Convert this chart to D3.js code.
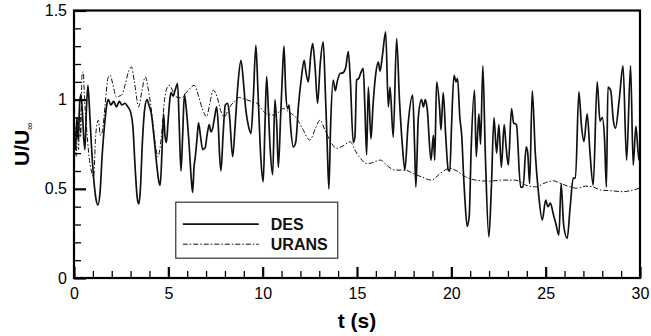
<!DOCTYPE html>
<html>
<head>
<meta charset="utf-8">
<script src="https://cdn.jsdelivr.net/npm/d3@7"></script>
<style>
  html, body { margin: 0; padding: 0; background: #fff; }
  svg { display: block; font-family: "Liberation Sans", Arial, Helvetica, sans-serif; }
</style>
</head>
<body>
<svg id="chart" width="651" height="336"></svg>
<script>
// Velocity ratio time series: DES and URANS
const desT = [0.00,0.08,0.15,0.22,0.30,0.37,0.45,0.52,0.58,0.66,0.74,0.82,0.92,1.05,1.17,1.27,1.38,1.50,1.62,1.75,1.82,1.95,2.10,2.25,2.40,2.55,2.70,2.85,3.00,3.12,3.24,3.35,3.43,3.52,3.62,3.75,3.87,3.97,4.10,4.25,4.40,4.50,4.57,4.66,4.75,4.82,4.90,4.98,5.08,5.14,5.25,5.35,5.49,5.58,5.67,5.76,5.85,5.95,6.10,6.22,6.29,6.36,6.43,6.52,6.60,6.70,6.82,6.95,7.05,7.17,7.25,7.35,7.45,7.56,7.65,7.72,7.79,7.90,8.02,8.15,8.25,8.41,8.55,8.70,8.85,8.98,9.10,9.25,9.38,9.50,9.64,9.75,9.86,9.95,10.03,10.12,10.21,10.30,10.40,10.53,10.65,10.75,10.83,10.95,11.05,11.13,11.22,11.32,11.40,11.48,11.62,11.75,11.90,12.05,12.20,12.30,12.42,12.55,12.65,12.78,12.91,13.05,13.21,13.32,13.42,13.51,13.60,13.74,13.85,13.95,14.10,14.25,14.40,14.54,14.65,14.80,14.89,14.98,15.10,15.20,15.33,15.42,15.51,15.60,15.74,15.85,16.00,16.13,16.22,16.35,16.52,16.66,16.75,16.92,17.10,17.25,17.40,17.54,17.70,17.95,18.05,18.12,18.25,18.42,18.52,18.62,18.72,18.92,19.05,19.12,19.22,19.38,19.45,19.57,19.70,19.84,19.92,20.01,20.14,20.25,20.33,20.45,20.55,20.66,20.72,20.84,20.95,21.05,21.23,21.32,21.46,21.55,21.67,21.80,21.99,22.12,22.26,22.40,22.52,22.65,22.80,22.90,23.02,23.19,23.30,23.45,23.67,23.80,23.97,24.05,24.15,24.29,24.45,24.64,24.82,25.00,25.12,25.25,25.40,25.55,25.70,25.82,25.95,26.14,26.30,26.46,26.58,26.76,26.90,27.03,27.20,27.35,27.52,27.73,27.88,28.00,28.12,28.22,28.30,28.45,28.58,28.70,28.90,29.10,29.29,29.50,29.64,29.78,29.95,30.00];
const desU = [0.80,0.72,0.90,0.78,0.98,1.03,0.92,0.78,0.72,0.95,1.08,0.95,0.75,0.55,0.44,0.41,0.48,0.70,0.86,0.98,1.00,0.97,0.99,0.96,0.99,0.97,0.98,0.96,0.93,0.85,0.62,0.45,0.415,0.50,0.75,0.95,1.00,0.97,0.92,0.78,0.62,0.54,0.52,0.70,0.92,0.80,0.76,0.87,1.00,1.04,1.02,1.05,1.09,0.85,0.60,0.80,1.03,0.95,0.75,0.55,0.48,0.62,0.68,0.78,0.87,0.80,0.72,0.73,0.80,0.86,0.82,0.84,0.90,0.96,0.85,0.68,0.60,0.80,0.97,0.98,0.90,0.68,0.87,1.10,1.22,1.10,0.95,0.85,0.81,1.00,1.305,1.05,0.76,0.60,0.54,0.85,1.13,0.95,0.72,0.58,1.00,0.85,0.62,0.90,1.15,1.30,1.05,0.95,0.97,0.85,0.735,0.76,0.97,1.12,1.22,1.15,1.10,1.25,1.315,1.18,0.98,1.20,1.324,1.05,0.75,0.50,0.85,1.11,1.05,1.10,1.147,1.15,1.18,1.27,1.10,0.76,0.79,1.11,1.12,1.15,1.175,0.95,0.69,1.07,0.78,0.97,1.15,1.21,1.16,1.25,1.38,0.96,1.07,0.79,1.343,1.00,0.75,0.605,0.85,1.025,0.75,0.51,0.90,1.00,0.96,1.00,0.95,0.66,0.80,0.66,1.10,0.95,0.83,1.04,0.80,0.605,0.60,0.85,1.137,1.10,1.12,0.90,0.80,0.55,0.44,0.29,0.35,0.72,1.053,0.68,0.92,0.75,1.19,0.70,0.23,0.50,0.90,0.70,0.86,0.62,0.86,0.74,0.633,0.95,0.87,0.86,0.51,0.51,0.735,0.70,0.53,1.05,0.70,0.455,0.325,0.437,0.40,0.42,0.36,0.30,0.24,0.53,0.30,0.222,0.40,0.56,0.56,1.044,0.85,0.765,0.92,0.70,0.52,1.10,0.88,0.90,0.78,0.51,1.07,1.05,0.89,0.84,1.00,1.19,0.66,1.19,0.633,0.85,0.66,0.70];

const uransT = [0.00,0.06,0.12,0.18,0.24,0.30,0.36,0.42,0.49,0.56,0.66,0.80,0.92,1.04,1.15,1.29,1.40,1.50,1.65,1.80,1.92,2.05,2.24,2.40,2.55,2.70,2.90,3.04,3.20,3.43,3.60,3.78,3.95,4.15,4.30,4.45,4.62,4.80,4.95,5.05,5.40,5.70,5.95,6.38,6.60,6.80,7.03,7.20,7.38,7.60,7.80,7.97,8.20,8.50,8.76,9.00,9.40,9.70,10.00,10.21,10.65,11.09,11.40,11.80,12.10,12.50,12.80,13.04,13.30,13.65,13.92,14.25,14.63,14.98,15.20,15.45,15.69,16.00,16.25,16.60,17.00,17.54,18.00,18.42,18.95,19.40,19.90,20.30,20.75,21.29,21.99,22.70,23.40,23.94,24.47,25.00,25.40,25.90,26.32,26.64,27.10,27.50,27.91,28.40,29.10,29.50,29.95,30.00];
const uransU = [0.70,0.85,0.68,0.90,0.72,0.95,0.80,1.13,1.156,1.00,0.85,0.68,0.60,0.567,0.80,0.885,0.80,0.82,0.97,1.12,1.137,1.09,1.016,1.02,1.03,1.08,1.16,1.184,1.10,0.96,1.05,1.128,1.05,0.90,0.76,0.68,0.78,1.00,1.07,1.08,1.016,1.01,1.04,1.08,1.02,0.95,0.905,0.98,1.053,1.01,0.93,0.904,0.95,0.99,1.012,1.005,0.99,0.98,0.94,0.92,0.913,0.95,0.93,0.895,0.84,0.773,0.84,0.885,0.83,0.755,0.727,0.74,0.764,0.70,0.67,0.643,0.643,0.655,0.661,0.63,0.605,0.605,0.585,0.567,0.549,0.585,0.615,0.60,0.567,0.549,0.543,0.549,0.549,0.521,0.511,0.535,0.545,0.525,0.511,0.503,0.515,0.511,0.493,0.49,0.484,0.49,0.503,0.505];

const xMajorTicks = [0, 5, 10, 15, 20, 25, 30];
const xMinorTicks = d3.range(0, 31, 1).filter(v => v % 5 !== 0);
const yMajorTicks = [0, 0.5, 1, 1.5];
const yMinorTicks = d3.range(0, 16, 1).map(v => v / 10).filter(v => Math.round(v * 10) % 5 !== 0);
const seriesNames = ["DES", "URANS"];

const margin = { left: 74, right: 11, top: 10.5, bottom: 58 };
const W = 651, H = 336;
const innerW = W - margin.left - margin.right;
const innerH = H - margin.top - margin.bottom;

const svg = d3.select("#chart");
const g = svg.append("g").attr("transform", `translate(${margin.left},${margin.top})`);

const x = d3.scaleLinear().domain([0, 30]).range([0, innerW]);
const y = d3.scaleLinear().domain([0, 1.5]).range([innerH, 0]);

// series lines
const line = d3.line().x(d => x(d[0])).y(d => y(d[1])).curve(d3.curveMonotoneX);
const desData = desT.map((t, i) => [t, desU[i]]);
const uransData = uransT.map((t, i) => [t, uransU[i]]);

g.append("path").datum(uransData)
  .attr("d", line).attr("fill", "none")
  .attr("stroke", "#111").attr("stroke-width", 1)
  .attr("stroke-dasharray", "5,2,1.5,2");

g.append("path").datum(desData)
  .attr("d", line).attr("fill", "none")
  .attr("stroke", "#111").attr("stroke-width", 1.7)
  .attr("stroke-linejoin", "round");

// axes with inward ticks
const tickFont = 16;
const xAxisMajor = d3.axisBottom(x).tickValues(xMajorTicks).tickSize(-11).tickPadding(10).tickFormat(d3.format("d"));
const xAxisMinor = d3.axisBottom(x).tickValues(xMinorTicks).tickSize(-7).tickFormat("");
const yAxisMajor = d3.axisLeft(y).tickValues(yMajorTicks).tickSize(-12).tickPadding(7).tickFormat(d => d === 0 || d === 1 ? d3.format("d")(d) : d3.format(".1f")(d));
const yAxisMinor = d3.axisLeft(y).tickValues(yMinorTicks).tickSize(-7).tickFormat("");

function styleAxis(sel, w) {
  sel.select(".domain").remove();
  sel.selectAll(".tick line").attr("stroke", "#000").attr("stroke-width", w);
  sel.selectAll(".tick text").attr("fill", "#000").style("font-size", tickFont + "px")
    .style("font-family", '"Liberation Sans", Arial, sans-serif');
}

g.append("g").attr("transform", `translate(0,${innerH})`).call(xAxisMinor).call(s => styleAxis(s, 1.3));
g.append("g").attr("transform", `translate(0,${innerH})`).call(xAxisMajor).call(s => styleAxis(s, 2.2));
g.append("g").call(yAxisMinor).call(s => styleAxis(s, 1.3));
g.append("g").call(yAxisMajor).call(s => styleAxis(s, 2.2));

// frame
g.append("rect").attr("x", 0).attr("y", 0).attr("width", innerW).attr("height", innerH)
  .attr("fill", "none").attr("stroke", "#000").attr("stroke-width", 2.2);

// legend
const leg = g.append("g").attr("transform", `translate(${x(5.5) - 2},${y(0.425)})`);
leg.append("rect").attr("x", 0).attr("y", 0).attr("width", 162).attr("height", 56)
  .attr("fill", "#fff").attr("stroke", "#333").attr("stroke-width", 1.2);
const legRows = [
  { name: seriesNames[0], dash: null, w: 1.7, yy: 22 },
  { name: seriesNames[1], dash: "5,2,1.5,2", w: 1, yy: 42 }
];
legRows.forEach(r => {
  leg.append("line").attr("x1", 7).attr("x2", 83).attr("y1", r.yy).attr("y2", r.yy)
    .attr("stroke", "#111").attr("stroke-width", r.w)
    .attr("stroke-dasharray", r.dash);
  leg.append("text").attr("x", 95).attr("y", r.yy + 6).text(r.name)
    .style("font-size", "16px").style("font-weight", "bold").attr("fill", "#111");
});

// axis titles
svg.append("text").attr("x", margin.left + x(15)).attr("y", 328)
  .attr("text-anchor", "middle").style("font-size", "21px").style("font-weight", "bold")
  .text("t (s)");

const yt = svg.append("text")
  .attr("transform", `translate(29,${margin.top + y(0.75)}) rotate(-90)`)
  .attr("text-anchor", "middle").style("font-size", "21px").style("font-weight", "bold");
yt.append("tspan").text("U/U");
yt.append("tspan").attr("dy", 4).style("font-size", "10px").style("font-weight", "normal").text("∞");
</script>
</body>
</html>
